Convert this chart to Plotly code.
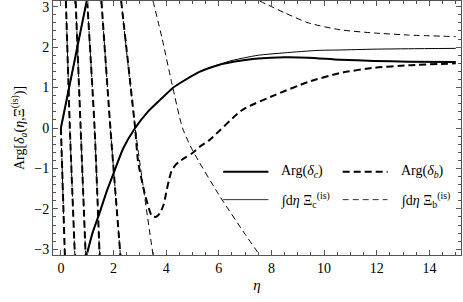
import plotly.graph_objects as go
import math

PI = math.pi

# Arg(delta_c) – thick solid (None = phase wrap)
eta_c = [0, 0.5, 0.98, None,
         0.98, 1.2, 1.47, 1.75, 2.03, 2.37, 2.82, 3.3, 3.76, 4.25, 4.5, 5.26, 6.0, 6.27,
         7.0, 7.5, 8.5, 9.4, 10.6, 11.9, 13.2, 15.0]
arg_c = [0, 1.6, PI, None,
         -PI, -2.6, -2.1, -1.55, -1.07, -0.5, 0.0, 0.4, 0.69, 0.99, 1.1, 1.39, 1.56, 1.6,
         1.68, 1.72, 1.75, 1.74, 1.69, 1.66, 1.64, 1.63]

# integral of Xi_c – thin solid
eta_xc = [0, 0.5, 0.98, None,
          0.98, 1.2, 1.47, 1.75, 2.03, 2.37, 2.82, 3.3, 3.76, 4.25, 4.5, 5.26, 6.0, 6.5,
          7.0, 7.5, 8.5, 9.77, 10.6, 11.9, 13.2, 15.0]
arg_xc = [0, 1.6, PI, None,
          -PI, -2.6, -2.1, -1.55, -1.07, -0.5, 0.0, 0.4, 0.69, 0.99, 1.1, 1.39, 1.57, 1.67,
          1.74, 1.8, 1.86, 1.92, 1.93, 1.95, 1.96, 1.97]

# Arg(delta_b) – thick dashed
eta_b = [0, 0.15, None,
         0.19, 0.34, 0.53, None,
         0.56, 0.75, 0.94, None,
         1.0, 1.28, 1.47, None,
         1.54, 1.88, 2.26, None,
         2.29, 2.82, 2.93, 3.2, 3.46, 3.6, 3.75, 3.9, 4.0, 4.1, 4.2, 4.35, 4.5, 4.75,
         5.0, 5.26, 5.64, 6.9, 8.15, 9.4, 10.6, 11.9, 13.2, 15.0]
arg_b = [0, -PI, None,
         PI, 0, -PI, None,
         PI, 0, -PI, None,
         PI, 0, -PI, None,
         PI, 0, -PI, None,
         PI, 0, -0.82, -1.66, -2.18, -2.2, -2.12, -1.9, -1.6, -1.3, -1.07, -0.92, -0.83, -0.72,
         -0.62, -0.47, -0.3, 0.45, 0.82, 1.14, 1.36, 1.49, 1.55, 1.6]

# integral of Xi_b – thin dashed
eta_xb = [0, 0.15, None,
          0.19, 0.34, 0.53, None,
          0.56, 0.75, 0.94, None,
          1.0, 1.28, 1.47, None,
          1.54, 1.88, 2.26, None,
          2.29, 2.82, 3.5, None,
          3.5, 3.85, 4.2, 4.62, 5.0, 6.0, 7.0, 7.55, None,
          7.55, 8.5, 9.4, 10.6, 11.9, 13.2, 15.0]
arg_xb = [0, -PI, None,
          PI, 0, -PI, None,
          PI, 0, -PI, None,
          PI, 0, -PI, None,
          PI, 0, -PI, None,
          PI, 0, -PI, None,
          PI, 2.2, 1.15, 0, -0.55, -1.65, -2.63, -PI, None,
          PI, 2.85, 2.6, 2.43, 2.35, 2.3, 2.26]

x_ticks = [0, 2, 4, 6, 8, 10, 12, 14]
y_ticks = [-3, -2, -1, 0, 1, 2, 3]

legend_labels = ["Arg(<i>δ<sub>c</sub></i>)", "Arg(<i>δ<sub>b</sub></i>)",
                 "∫d<i>η</i> Ξ<sub>c</sub><sup>(is)</sup>", "∫d<i>η</i> Ξ<sub>b</sub><sup>(is)</sup>"]

FONT = "Liberation Serif, Times New Roman, serif"

fig = go.Figure()
fig.add_trace(go.Scatter(x=eta_xb, y=arg_xb, mode="lines",
                         line=dict(color="black", width=1, dash="6px,4px", shape="spline", smoothing=0.6),
                         hoverinfo="skip"))
fig.add_trace(go.Scatter(x=eta_xc, y=arg_xc, mode="lines",
                         line=dict(color="black", width=1, shape="spline", smoothing=0.6),
                         hoverinfo="skip"))
fig.add_trace(go.Scatter(x=eta_b, y=arg_b, mode="lines",
                         line=dict(color="black", width=2, dash="7px,4px", shape="spline", smoothing=0.6),
                         hoverinfo="skip"))
fig.add_trace(go.Scatter(x=eta_c, y=arg_c, mode="lines",
                         line=dict(color="black", width=2, shape="spline", smoothing=0.6),
                         hoverinfo="skip"))

# manual legend (2x2)
rows_y = [0.328, 0.218]
samples = [(0.417, 0.528, 2, None), (0.710, 0.820, 2, "7px,4px"),
           (0.417, 0.528, 1, None), (0.710, 0.820, 1, "6px,4px")]
text_x = [0.555, 0.848, 0.555, 0.848]
for i, (x0, x1, w, d) in enumerate(samples):
    yy = rows_y[i // 2]
    ln = dict(color="black" if w == 2 else "#333", width=w)
    if d:
        ln["dash"] = d
    fig.add_shape(type="line", xref="paper", yref="paper", x0=x0, x1=x1, y0=yy, y1=yy, line=ln)
    fig.add_annotation(xref="paper", yref="paper", x=text_x[i], y=yy, text=legend_labels[i],
                       showarrow=False, xanchor="left", yanchor="middle",
                       font=dict(family=FONT, size=14, color="black"))

axis_common = dict(showline=True, linecolor="#555", linewidth=1, mirror="allticks",
                   ticks="inside", ticklen=5, tickcolor="#555", tickwidth=1,
                   showgrid=False, zeroline=False, automargin=False,
                   ticklabeloverflow="allow",
                   tickfont=dict(family=FONT, size=14, color="black"))

fig.update_layout(
    width=463, height=302,
    margin=dict(l=53, r=2, t=1, b=47),
    paper_bgcolor="white", plot_bgcolor="white",
    font=dict(family=FONT, color="black"),
    showlegend=False,
    xaxis=dict(range=[-0.3, 15.2], tickvals=x_ticks,
               minor=dict(dtick=0.5, ticks="inside", ticklen=3, tickcolor="#555"),
               title=dict(text="<i>η</i>", font=dict(family=FONT, size=15, color="black"), standoff=4),
               **axis_common),
    yaxis=dict(range=[-PI, PI], tickvals=y_ticks,
               minor=dict(dtick=0.2, tick0=0, ticks="inside", ticklen=3, tickcolor="#555"),
               title=dict(text="Arg[<i>δ<sub>a</sub></i>(<i>η</i>,Ξ<sup>(is)</sup>)]",
                          font=dict(family=FONT, size=14, color="black"), standoff=6),
               **axis_common),
)

fig.write_html("out.html", config={"displayModeBar": False, "staticPlot": True},
               post_script="document.body.style.margin='0px';")
